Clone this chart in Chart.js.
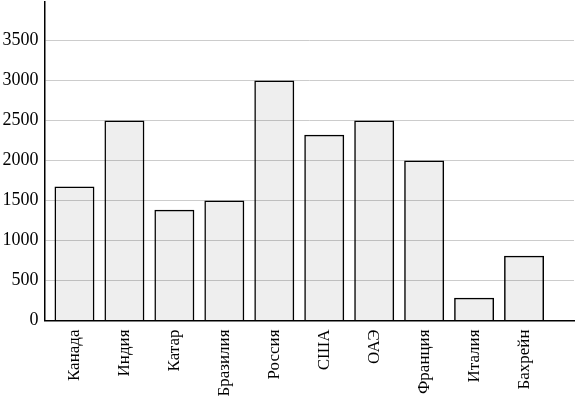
<!DOCTYPE html>
<html>
<head>
<meta charset="utf-8">
<script src="https://cdn.jsdelivr.net/npm/chart.js@4/dist/chart.umd.min.js"></script>
<style>
html,body{margin:0;padding:0;background:#fff;}
#wrap{width:576px;height:420px;position:relative;}
</style>
</head>
<body>
<div id="wrap"><canvas id="c" width="576" height="420"></canvas></div>
<script>
const categories = ['Канада','Индия','Катар','Бразилия','Россия','США','ОАЭ','Франция','Италия','Бахрейн'];
const values = [1675, 2500, 1385, 1500, 3000, 2320, 2500, 2000, 285, 810];
const yTicks = [0, 500, 1000, 1500, 2000, 2500, 3000, 3500];

const FONT = "'Liberation Serif', 'DejaVu Serif', serif";

new Chart(document.getElementById('c'), {
  type: 'bar',
  data: {
    datasets: [{
      data: values.map((v, i) => ({x: i, y: v})),
      backgroundColor: 'rgba(0,0,0,0.066)',
      borderColor: '#000',
      borderWidth: 1.5,
      barPercentage: 0.8,
      categoryPercentage: 1.0
    }]
  },
  options: {
    responsive: false,
    animation: false,
    layout: {padding: {top: 2, right: 2, left: 0, bottom: 0}},
    plugins: {legend: {display: false}, tooltip: {enabled: false}},
    scales: {
      x: {
        type: 'linear',
        offset: false,
        min: -0.6,
        max: 10,
        afterBuildTicks: axis => { axis.ticks = categories.map((_, i) => ({value: i})); },
        afterFit: s => { s.height = 99.5; s.paddingLeft = 0; s.paddingRight = 0; },
        grid: {display: false, drawTicks: false},
        border: {display: true, color: '#000', width: 1.5},
        ticks: {
          autoSkip: false,
          minRotation: 90,
          maxRotation: 90,
          padding: 9,
          color: '#000',
          font: {family: FONT, size: 17},
          callback: v => categories[v] ?? ''
        }
      },
      y: {
        min: 0,
        max: 3980,
        afterBuildTicks: axis => { axis.ticks = yTicks.map(v => ({value: v})); },
        afterFit: s => { s.width = 44.5; s.paddingTop = 0; s.paddingBottom = 0; },
        grid: {color: ctx => ctx.tick && ctx.tick.value === 0 ? 'rgba(0,0,0,0)' : '#cccccc', lineWidth: 1, drawTicks: false},
        border: {display: true, color: '#000', width: 1.5},
        ticks: {
          padding: 6,
          color: '#000',
          font: {family: FONT, size: 18},
          callback: v => String(v)
        }
      }
    }
  }
});
</script>
</body>
</html>
